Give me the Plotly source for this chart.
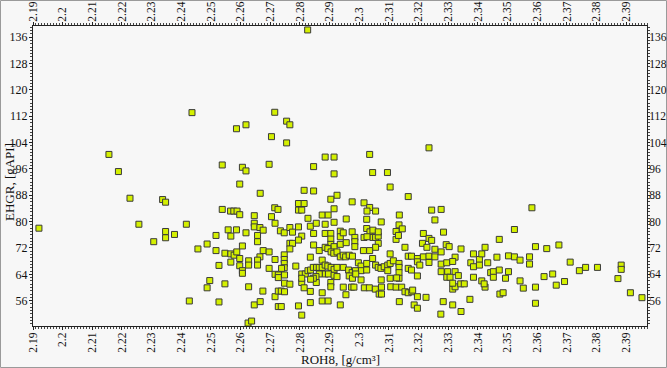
import plotly.graph_objects as go

# ROH8 density [g/cm3]
roh8 = [
    2.1920, 2.2156, 2.2188, 2.2227, 2.2257, 2.2307, 2.2337, 2.2347, 2.2347, 2.2347,
    2.2436, 2.2586, 2.2618, 2.2826, 2.2715, 2.2755, 2.2766, 2.2704, 2.2755, 2.3235,
    2.2538, 2.2597, 2.2538, 2.2566, 2.2577, 2.2588, 2.2597, 2.2417, 2.2377, 2.2517,
    2.2558, 2.2586, 2.2567, 2.2487, 2.2456, 2.2517, 2.2547, 2.2567, 2.2578, 2.2587,
    2.2597, 2.2527, 2.2567, 2.2597, 2.2496, 2.2487, 2.2547, 2.2427, 2.2527,
    2.2885, 2.2915, 2.2606, 2.2618, 2.2696, 2.2846, 2.2915, 2.2666, 2.2814, 2.2846,
    2.2925, 2.2904, 2.2795, 2.2814, 2.2795, 2.2806, 2.2715, 2.2726, 2.2704, 2.2646,
    2.2827, 2.2875, 2.2895, 2.2915, 2.2646, 2.2646, 2.2716, 2.2665, 2.2676, 2.2618,
    2.2657, 2.2657, 2.2606, 2.2734, 2.2747, 2.2766, 2.2775, 2.2795, 2.2835, 2.2855,
    2.2885, 2.2915, 2.2846, 2.2885, 2.2904, 2.2936, 2.2936, 2.2946, 2.2806, 2.2795,
    2.2766, 2.2775, 2.2766, 2.2846, 2.2904, 2.2904, 2.2915, 2.2936, 2.2676, 2.2696,
    2.2665, 2.2657, 2.2657, 2.2627, 2.2627, 2.2606, 2.2606, 2.2747, 2.2747, 2.2747,
    2.2747, 2.2716, 2.2696, 2.2738, 2.2716, 2.2727, 2.2727, 2.2748, 2.2627, 2.2675,
    2.2716, 2.2727, 2.2737, 2.2748, 2.2766, 2.2748, 2.2646, 2.2666, 2.2727, 2.2737,
    2.2795, 2.2806, 2.2835, 2.2875, 2.2895, 2.2936, 2.2835, 2.2875, 2.2806, 2.2814,
    2.2855, 2.2904, 2.2904, 2.2946, 2.2786, 2.2806, 2.2818, 2.2806, 2.2827, 2.2836,
    2.2845, 2.2856, 2.2865, 2.2875, 2.2865, 2.2885, 2.2894, 2.2905, 2.2914, 2.2925,
    2.2936, 2.2946, 2.2875, 2.2885, 2.2894, 2.2905, 2.2915, 2.2925, 2.2885, 2.2896,
    2.2915, 2.2925, 2.2946, 2.2865, 2.2854, 2.2845, 2.2836, 2.2835, 2.2625, 2.2637,
    2.3035, 2.3045, 2.3095, 2.3104, 2.3165, 2.2976, 2.3016, 2.3035, 2.3026, 2.3055,
    2.3135, 2.3244, 2.3255, 2.2956, 2.3025, 2.3074, 2.3134, 2.3145, 2.3124, 2.3124,
    2.3132, 2.3216, 2.3235, 2.3244, 2.2976, 2.2985, 2.2985, 2.2985, 2.3025, 2.3036,
    2.3046, 2.3046, 2.3055, 2.3064, 2.3064, 2.3016, 2.3026, 2.2956, 2.3064, 2.3055,
    2.3014, 2.3035, 2.2954, 2.2966, 2.2977, 2.2997, 2.3006, 2.3006, 2.3006, 2.3025,
    2.3025, 2.3045, 2.3055, 2.3064, 2.3073, 2.3084, 2.3096, 2.3096, 2.3104, 2.3104,
    2.3115, 2.3134, 2.3134, 2.3134, 2.3134, 2.3154, 2.3165, 2.3176, 2.3165, 2.3176,
    2.3196, 2.3196, 2.3204, 2.3196, 2.3216, 2.3235, 2.3255, 2.3235, 2.3213, 2.3228,
    2.3255, 2.3074, 2.3104, 2.3126, 2.2964, 2.2976, 2.2987, 2.2966, 2.2977, 2.2988,
    2.2955, 2.2974, 2.2982, 2.3017, 2.3034, 2.3054, 2.3067, 2.3075, 2.3075, 2.3106,
    2.3124, 2.3143, 2.3135, 2.3154, 2.3165, 2.3177, 2.3180, 2.3196, 2.3185, 2.3196,
    2.3225,
    2.3276, 2.3284, 2.3293, 2.3303, 2.3276, 2.3343, 2.3276, 2.3295, 2.3323, 2.3315,
    2.3276, 2.3298, 2.3323, 2.3334, 2.3295, 2.3306, 2.3385, 2.3376, 2.3385, 2.3385,
    2.3405, 2.3405, 2.3413, 2.3424, 2.3433, 2.3443, 2.3452, 2.3452, 2.3464, 2.3472,
    2.3472, 2.3493, 2.3503, 2.3503, 2.3523, 2.3523, 2.3542, 2.3574, 2.3574, 2.3582,
    2.3594, 2.3623, 2.3632, 2.3652, 2.3673, 2.3711, 2.3742, 2.3763, 2.3803,
    2.3883, 2.3883, 2.3872, 2.3914, 2.3953,
    2.3275, 2.3283, 2.3315, 2.3315, 2.3323, 2.3315, 2.3342, 2.3354, 2.3343, 2.3373,
    2.3413, 2.3424, 2.3421, 2.3474, 2.3485, 2.3542, 2.3553, 2.3594, 2.3594, 2.3664,
    2.3692,
]

# EHGR gamma ray [gAPI]
ehgr = [
    78.0, 100.4, 95.2, 87.1, 79.2, 73.9, 86.7, 85.9, 77.0, 75.1,
    113.1, 108.2, 109.4, 138.2, 113.2, 110.5, 109.4, 105.8, 103.9, 102.4,
    97.2, 91.4, 83.7, 83.2, 83.2, 83.2, 82.1, 79.2, 76.1, 75.8,
    77.5, 77.5, 75.6, 73.2, 71.7, 71.2, 70.4, 70.2, 69.8, 70.8,
    68.8, 66.7, 67.7, 66.6, 62.1, 59.9, 61.1, 55.9, 55.6,
    99.6, 99.6, 96.5, 95.4, 97.4, 96.7, 94.5, 88.6, 89.5, 89.3,
    88.0, 86.8, 85.5, 85.5, 83.5, 83.5, 84.2, 83.7, 81.5, 81.8,
    81.0, 82.0, 82.0, 83.9, 79.5, 78.4, 79.5, 78.2, 77.4, 76.6,
    75.8, 73.9, 72.6, 77.2, 76.6, 78.2, 76.8, 78.4, 78.6, 79.5,
    79.2, 79.8, 76.4, 76.4, 76.4, 77.1, 75.4, 76.6, 75.6, 74.4,
    73.4, 73.4, 71.7, 72.9, 74.7, 73.1, 72.4, 73.1, 71.2, 70.8,
    69.3, 68.3, 66.8, 68.1, 66.8, 65.1, 64.3, 69.9, 68.5, 67.3,
    66.0, 68.5, 65.8, 65.8, 64.0, 63.8, 63.0, 63.8, 60.2, 58.9,
    57.2, 58.9, 58.9, 61.3, 61.0, 58.7, 54.7, 55.7, 54.2, 54.2,
    54.4, 51.6, 55.4, 55.9, 55.9, 54.7, 58.8, 58.4, 61.5, 59.9,
    61.5, 61.5, 60.2, 60.1, 66.5, 64.1, 64.1, 62.8, 65.1, 65.3,
    66.1, 66.1, 66.1, 66.1, 71.2, 72.2, 71.8, 70.8, 70.4, 70.8,
    69.3, 69.8, 68.3, 66.8, 66.5, 66.1, 65.5, 66.1, 64.1, 64.1,
    63.7, 63.3, 66.1, 64.1, 63.3, 62.8, 62.5, 69.2, 49.2, 49.8,
    100.4, 94.9, 94.9, 90.5, 87.6, 86.0, 85.7, 84.3, 83.2, 83.2,
    82.0, 83.5, 80.5, 80.8, 80.7, 79.9, 79.0, 77.8, 77.0, 74.6,
    75.8, 76.4, 74.9, 74.3, 76.9, 75.2, 73.9, 72.4, 77.9, 76.9,
    77.4, 75.2, 75.2, 75.6, 76.9, 75.2, 75.4, 73.6, 73.4, 72.2,
    71.2, 71.2, 69.3, 69.8, 69.5, 67.5, 66.5, 65.1, 62.3, 67.3,
    65.3, 68.8, 66.8, 66.1, 65.8, 66.3, 66.8, 65.1, 67.3, 70.2,
    68.1, 67.3, 66.1, 64.5, 62.8, 72.2, 69.5, 69.5, 65.8, 65.3,
    68.8, 67.8, 66.8, 63.5, 69.3, 69.5, 69.3, 67.6, 73.4, 72.2,
    71.6, 62.3, 62.8, 62.9, 65.3, 64.5, 65.1, 63.5, 62.8, 64.1,
    57.8, 60.1, 60.1, 59.9, 59.9, 59.5, 58.0, 58.0, 60.1, 60.2,
    60.1, 60.1, 55.7, 58.7, 58.4, 58.7, 59.2, 57.2, 54.7, 53.7,
    57.0,
    83.7, 76.8, 73.0, 72.4, 70.8, 71.7, 67.1, 67.5, 69.2, 67.9,
    64.8, 64.8, 64.8, 63.6, 63.1, 63.1, 70.2, 67.5, 66.3, 63.1,
    68.5, 66.8, 70.2, 72.2, 67.5, 64.5, 64.8, 63.1, 69.2, 74.6,
    65.3, 62.8, 69.6, 64.8, 69.3, 77.6, 68.3, 69.3, 67.1, 84.2,
    72.4, 63.3, 71.8, 64.1, 72.9, 67.7, 65.1, 66.1, 66.1,
    66.8, 65.5, 62.7, 58.4, 56.9,
    51.9, 55.7, 54.7, 59.5, 60.2, 61.3, 61.1, 61.1, 52.7, 56.4,
    62.0, 60.1, 61.1, 58.0, 58.4, 62.0, 59.8, 60.1, 55.2, 60.7,
    61.8,
]

x_range = [2.19, 2.397]
y_range = [48.3, 139.4]
x_title = "ROH8, [g/cm³]"
y_title = "EHGR, [gAPI]"

BG = "#f7f7f7"
FONT = "Liberation Serif"
W, H = 667, 368
ML, MR, MT, MB = 33, 20, 26, 42
PW, PH = W - ML - MR, H - MT - MB

marker = dict(symbol="square", size=6, color="#d4f000",
              line=dict(color="#3a3a3a", width=1))

fig = go.Figure()
fig.add_trace(go.Scatter(x=roh8, y=ehgr, mode="markers", marker=marker,
                         xaxis="x", yaxis="y", showlegend=False))
fig.add_trace(go.Scatter(x=roh8, y=ehgr, mode="markers",
                         marker=dict(size=1, opacity=0), xaxis="x2", yaxis="y2",
                         showlegend=False, hoverinfo="skip"))

tickfont = dict(family=FONT, size=12, color="#111")
xtickfont = dict(family=FONT, size=11.5, color="#111")
common_x = dict(range=x_range, dtick=0.01, tick0=2.19, tickangle=-90,
                ticks="outside", ticklen=3, tickcolor="#222", tickwidth=1,
                showline=True, linecolor="#222", linewidth=1,
                showgrid=False, zeroline=False, tickfont=xtickfont,
                automargin=False,
                minor=dict(dtick=0.001, ticklen=2, ticks="outside",
                           tickcolor="#444", showgrid=False))
common_y = dict(range=y_range, dtick=8, tick0=0,
                ticks="outside", tickcolor="#222", tickwidth=1,
                showline=True, linecolor="#222", linewidth=1,
                showgrid=False, zeroline=False,
                automargin=False,
                minor=dict(dtick=1, ticklen=2, ticks="outside",
                           tickcolor="#444", showgrid=False))

fig.update_layout(
    width=W, height=H,
    margin=dict(l=ML, r=MR, t=MT, b=MB, autoexpand=False),
    paper_bgcolor=BG, plot_bgcolor=BG,
    xaxis=dict(**common_x, side="bottom", anchor="y", ticklabelstandoff=-2),
    xaxis2=dict(**common_x, side="top", anchor="y", overlaying="x", matches="x",
                ticklabelstandoff=-2),
    yaxis=dict(**common_y, side="left", anchor="x", ticklen=3, tickfont=tickfont,
               ticklabelstandoff=-1),
    yaxis2=dict(**common_y, side="right", anchor="x", overlaying="y", matches="y",
                ticklen=2, tickfont=dict(family=FONT, size=11.5, color="#111"),
                ticklabelstandoff=-3),
    annotations=[
        dict(text=x_title, xref="paper", yref="paper", x=0.5, y=-33 / PH,
             xanchor="center", yanchor="middle", showarrow=False,
             font=dict(family=FONT, size=13, color="#111")),
        dict(text=y_title, xref="paper", yref="paper", x=-24 / PW, y=0.5 - 6 / PH,
             xanchor="center", yanchor="middle", showarrow=False, textangle=-90,
             font=dict(family=FONT, size=13, color="#111")),
    ],
    shapes=[dict(type="rect", xref="paper", yref="paper",
                 x0=-(ML - 0.5) / PW, x1=(W - ML - 0.5) / PW,
                 y0=-(MB - 0.5) / PH, y1=(H - MB - 0.5) / PH,
                 line=dict(color="#9a9a9a", width=1), fillcolor="rgba(0,0,0,0)",
                 layer="below")],
)

fig.write_html("out.html", config={"displayModeBar": False},
               post_script="document.body.style.margin='0';")
